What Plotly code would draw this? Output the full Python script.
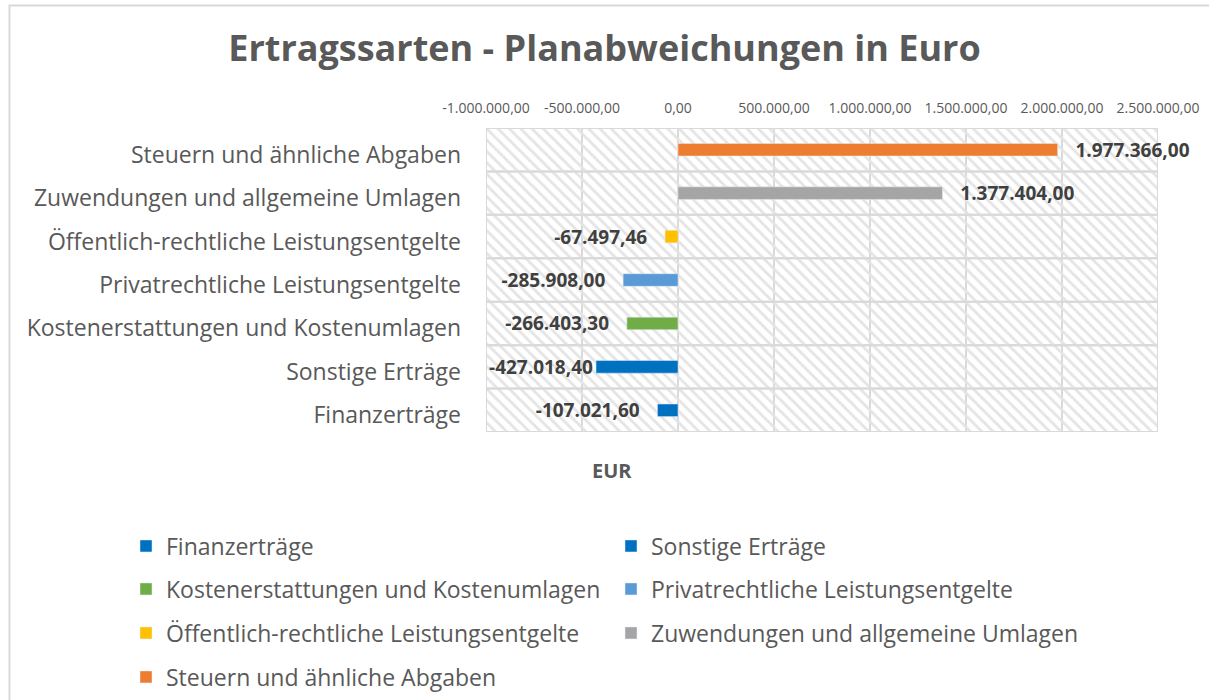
import plotly.graph_objects as go

# ── Daten ─────────────────────────────────────────────────────────────────────
KATEGORIEN = [
    "Finanzerträge",
    "Sonstige Erträge",
    "Kostenerstattungen und Kostenumlagen",
    "Privatrechtliche Leistungsentgelte",
    "Öffentlich-rechtliche Leistungsentgelte",
    "Zuwendungen und allgemeine Umlagen",
    "Steuern und ähnliche Abgaben",
]
ABWEICHUNGEN = [-107021.60, -427018.40, -266403.30, -285908.00, -67497.46, 1377404.00, 1977366.00]
FARBEN = ["#0070C0", "#0070C0", "#70AD47", "#5B9BD5", "#FFC000", "#A5A5A5", "#ED7D31"]
TICK_WERTE = [-1_000_000, -500_000, 0, 500_000, 1_000_000, 1_500_000, 2_000_000, 2_500_000]


def de_format(v):
    """Zahl im deutschen Format: 1.234.567,89 (mit normalem Bindestrich)."""
    return f"{v:,.2f}".replace(",", "X").replace(".", ",").replace("X", ".")


# ── Stil ──────────────────────────────────────────────────────────────────────
X_MIN, X_MAX = TICK_WERTE[0], TICK_WERTE[-1]
GRID = "#D9D9D9"
TEXT = "#595959"
FONT = "Open Sans, Noto Sans, sans-serif"
PAD = "\u00a0" * 3   # Abstand Beschriftung <-> Balken wie in Excel

W, H = 1209, 700
PLOT_L, PLOT_R, PLOT_T, PLOT_B = 486, 1158, 128, 432


def px_x(p):
    return (p - PLOT_L) / (PLOT_R - PLOT_L)


def px_y(p):
    return (PLOT_B - p) / (PLOT_B - PLOT_T)


fig = go.Figure()

# schraffierter Hintergrund je Zeile (Excel-Musterfüllung)
fig.add_trace(go.Bar(
    y=KATEGORIEN,
    x=[X_MAX - X_MIN] * len(KATEGORIEN),
    base=X_MIN,
    orientation="h",
    width=1,
    marker=dict(
        color="rgba(0,0,0,0)",
        line=dict(color=GRID, width=2),
        pattern=dict(shape="\\", fillmode="replace", fgcolor="#E4E4E4",
                     bgcolor="rgba(0,0,0,0)", size=8, solidity=0.35),
    ),
    hoverinfo="skip",
    showlegend=False,
))

legends = ["legend", "legend2", "legend3", "legend4"]
for i, (kat, wert, farbe) in enumerate(zip(KATEGORIEN, ABWEICHUNGEN, FARBEN)):
    if wert >= 0:
        tmpl = PAD + "<b>%{x:,.2f}</b>"
    elif wert > X_MIN * 0.4:
        tmpl = "<b>%{x:,.2f}</b>" + PAD
    else:
        # Excel rückt die Beschriftung an den Balken heran, wenn der Platz fehlt
        tmpl = "<b>%{x:,.2f}</b>"
    fig.add_trace(go.Bar(
        y=[kat], x=[wert],
        name=kat,
        orientation="h",
        width=0.29,
        marker=dict(color=farbe),
        texttemplate=tmpl,
        textposition="outside",
        constraintext="none",
        textfont=dict(size=19, color="#404040", family=FONT),
        cliponaxis=False,
        legend=legends[i // 2],
        hovertemplate="%{y}: %{x:,.2f}<extra></extra>",
    ))

legend_common = dict(
    orientation="h", xref="paper", yref="paper",
    x=px_x(126), xanchor="left", yanchor="middle",
    entrywidth=440, entrywidthmode="pixels", itemwidth=30,
    font=dict(size=23, color=TEXT, family=FONT),
    bgcolor="rgba(0,0,0,0)",
)
legend_rows = [546, 589, 633, 677]

fig.update_layout(
    width=W, height=H,
    margin=dict(l=PLOT_L, r=W - PLOT_R, t=PLOT_T, b=H - PLOT_B, autoexpand=False),
    separators=",.",
    barmode="overlay",
    plot_bgcolor="white",
    paper_bgcolor="white",
    font=dict(family=FONT, color=TEXT),
    title=dict(
        text="<b>Ertragssarten - Planabweichungen in Euro</b>",
        font=dict(size=36, color=TEXT, family=FONT),
        x=0.5, xref="container", xanchor="center",
        y=1 - 48 / H, yref="container", yanchor="middle",
    ),
    xaxis=dict(
        side="top",
        range=[X_MIN, X_MAX],
        tickmode="array",
        tickvals=TICK_WERTE,
        ticktext=[de_format(v) for v in TICK_WERTE],
        tickfont=dict(size=14, color=TEXT),
        showgrid=True, gridcolor=GRID, gridwidth=2,
        zeroline=True, zerolinecolor=GRID, zerolinewidth=2,
        showline=False, ticks="", ticklabelstandoff=11,
        fixedrange=True,
    ),
    yaxis=dict(
        type="category",
        range=[-0.5, len(KATEGORIEN) - 0.5],
        showgrid=False, zeroline=False, showline=False,
        ticks="", ticklabelstandoff=24, ticklabelshift=5,
        tickfont=dict(size=23, color=TEXT),
        fixedrange=True,
    ),
    annotations=[dict(
        text="<b>EUR</b>", xref="paper", yref="paper",
        x=px_x(612), y=px_y(470),
        xanchor="center", yanchor="middle", showarrow=False,
        font=dict(size=20, color=TEXT, family=FONT),
    )],
    shapes=[dict(
        type="rect", xref="paper", yref="paper", layer="below",
        x0=px_x(9.5), x1=px_x(1260),
        y0=px_y(760), y1=px_y(5.5),
        line=dict(color=GRID, width=2), fillcolor="rgba(0,0,0,0)",
    )],
)
for name, row in zip(legends, legend_rows):
    fig.update_layout({name: dict(legend_common, y=px_y(row))})

fig.write_html(
    "out.html",
    config={"displayModeBar": False},
    post_script="document.body.style.margin='0';",
)
